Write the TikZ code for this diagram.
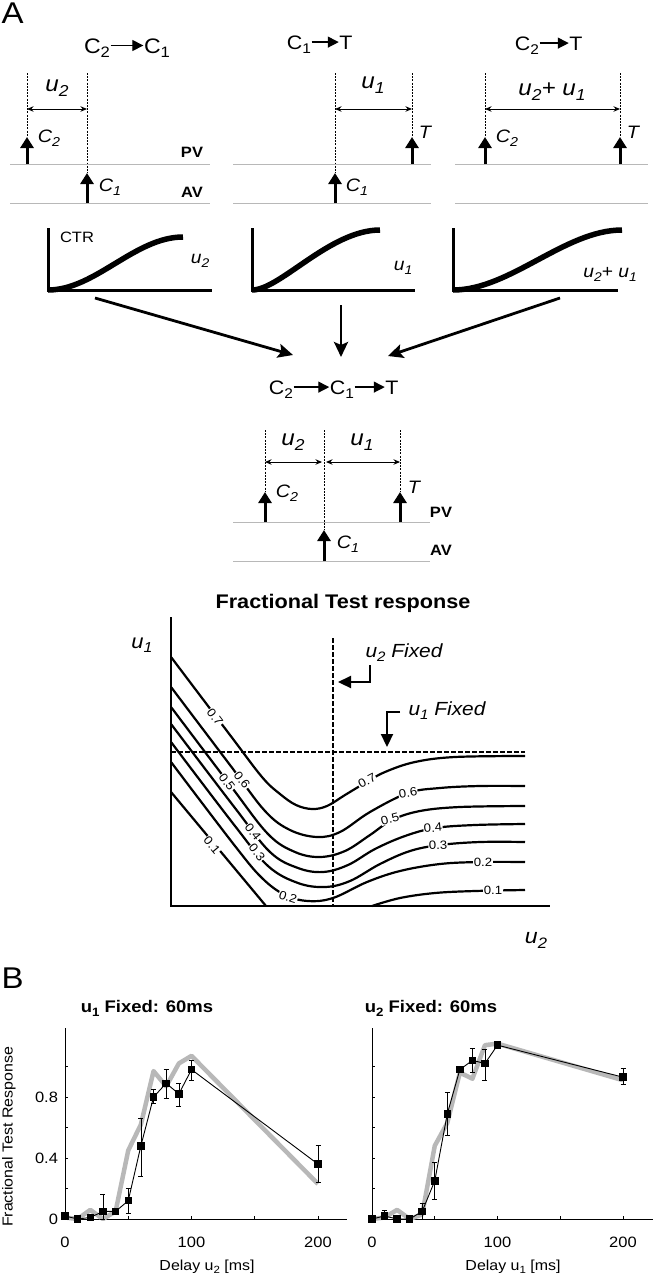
\documentclass[tikz,border=0pt]{standalone}
\usepackage{graphicx}
\usepackage{fontspec}
\setmainfont{Liberation Sans}[FakeStretch=1.1]
\usetikzlibrary{arrows.meta}
\newcommand\sbs[1]{\raisebox{-0.45ex}{\scalebox{0.72}{#1}}}
\newcommand\fsz[1]{\fontsize{#1}{#1}\selectfont}
\begin{document}
\begin{tikzpicture}[x=1pt,y=-1pt,
  every node/.style={inner sep=0.5pt},
  ttl/.style={font=\fsz{19.5}, anchor=base, text height=14pt, text depth=4.8pt},
  ttlbig/.style={font=\fsz{21}, anchor=base, text height=15pt, text depth=5pt},
  ttlarr/.style={line width=1.3pt, -{Triangle[length=11pt,width=11pt]}},
  ulab/.style={font=\fsz{22}\itshape, anchor=base},
  clab/.style={font=\fsz{18}\itshape, anchor=base},
  vlab/.style={font=\fsz{15}\bfseries, anchor=base},
  vdash/.style={line width=0.8pt, dash pattern=on 2pt off 1.2pt},
  stim/.style={line width=3pt, -{Triangle[length=11pt,width=13pt]}},
  dbl/.style={line width=0.9pt, {Stealth[length=6.5pt,width=5.5pt]}-{Stealth[length=6.5pt,width=5.5pt]}},
  lvl/.style={line width=0.8pt, black!28},
  ctrax/.style={line width=3pt},
  ctrc/.style={line width=5.5pt},
  ctrlab/.style={font=\fsz{17.5}\itshape, anchor=base},
  conv/.style={line width=2.8pt, -{Stealth[length=15pt,width=14pt,inset=3pt]}},
  ax/.style={line width=2.8pt},
  fixd/.style={line width=2.3pt, dash pattern=on 4.5pt off 2.5pt},
  cont/.style={line width=2.2pt},
  clbl/.style={font=\fsz{12}, fill=white, inner sep=0.5pt},
  fixarr/.style={line width=2.2pt, -{Triangle[length=13pt,width=12pt]}},
  pax/.style={line width=0.8pt},
  gline/.style={line width=4.5pt, black!28, line join=round},
  dline/.style={line width=0.9pt},
  sq/.style={fill=black, minimum size=7.5pt, inner sep=0pt},
  ebar/.style={line width=0.7pt},
  tck/.style={font=\fsz{15}},
  ptitle/.style={font=\fsz{16.8}\bfseries, anchor=base},
  axl/.style={font=\fsz{14.5}, anchor=base}
]
\useasboundingbox (0,0) rectangle (655,1280);

% ---------------- Panel A label
\node[font=\fsz{30}, anchor=base west] (lA) at (1,23) {A};

% ---------------- Top-left: C2 -> C1
\node[ttlbig] (tl1) at (97,53) {C\sbs{2}};
\node[ttlbig] (tl2) at (157,53) {C\sbs{1}};
\draw[ttlarr] ([yshift=2.5pt]tl1.east) -- ([yshift=2.5pt]tl2.west);
\draw[vdash] (27,73) -- (27,137);
\draw[vdash] (87,73) -- (87,173);
\node[ulab] (ul2) at (57,91) {u\sbs{2}};
\draw[dbl] (27,109) -- (87,109);
\draw[lvl] (10,164) -- (210,164);
\draw[lvl] (10,203) -- (210,203);
\draw[stim] (27,164) -- (27,137);
\draw[stim] (87,203) -- (87,173);
\node[clab] (lc2) at (49,142) {C\sbs{2}};
\node[clab] (lc1) at (110,191) {C\sbs{1}};
\node[vlab] (lpv) at (192,157) {PV};
\node[vlab] (lav) at (192,197) {AV};
\draw[ctrax] (48,228) -- (48,290) -- (212,290);
\draw[ctrc] (48,290) .. controls (95,290) and (135,237) .. (183,237);
\node[font=\fsz{15}, anchor=base] (ctr) at (77,242) {CTR};
\node[ctrlab] (lcu) at (200,263) {u\sbs{2}};

% ---------------- Top-middle: C1 -> T
\node[ttl] (tm1) at (299,49) {C\sbs{1}};
\node[ttl] (tm2) at (346,49) {T};
\draw[ttlarr] ([yshift=2.3pt]tm1.east) -- ([yshift=2.3pt]tm2.west);
\draw[vdash] (335,73) -- (335,173);
\draw[vdash] (412,73) -- (412,137);
\node[ulab] (mu1) at (373,88) {u\sbs{1}};
\draw[dbl] (335,109) -- (412,109);
\draw[lvl] (233,164) -- (431,164);
\draw[lvl] (233,203) -- (431,203);
\draw[stim] (412,164) -- (412,137);
\draw[stim] (335,203) -- (335,173);
\node[clab] (mt) at (425,138) {T};
\node[clab] (mc1) at (357,191) {C\sbs{1}};
\draw[ctrax] (252,228) -- (252,290) -- (415,290);
\draw[ctrc] (252,290) .. controls (280,290) and (330,230) .. (380,230);
\node[ctrlab] (mcu) at (403,270) {u\sbs{1}};

% ---------------- Top-right: C2 -> T
\node[ttl] (tr1) at (527,50) {C\sbs{2}};
\node[ttl] (tr2) at (576,50) {T};
\draw[ttlarr] ([yshift=2.3pt]tr1.east) -- ([yshift=2.3pt]tr2.west);
\draw[vdash] (485,73) -- (485,137);
\draw[vdash] (620,73) -- (620,137);
\node[ulab] (ru) at (552,95) {u\sbs{2}+ u\sbs{1}};
\draw[dbl] (485,109) -- (620,109);
\draw[lvl] (455,164) -- (648,164);
\draw[lvl] (455,203) -- (648,203);
\draw[stim] (485,164) -- (485,137);
\draw[stim] (620,164) -- (620,137);
\node[clab] (rc2) at (507,142) {C\sbs{2}};
\node[clab] (rt) at (633,138) {T};
\draw[ctrax] (453,228) -- (453,290) -- (618,290);
\draw[ctrc] (453,290) .. controls (510,290) and (565,230) .. (622,230);
\node[ctrlab] (rcu) at (610,277) {u\sbs{2}+ u\sbs{1}};

% ---------------- converging arrows
\coordinate (cvl0) at (95,298);  \coordinate (cvl1) at (293,355);
\coordinate (cvm0) at (341,305); \coordinate (cvm1) at (341,357);
\coordinate (cvr0) at (560,298); \coordinate (cvr1) at (388,356);
\draw[conv] (cvl0) -- (cvl1);
\draw[conv] (cvm0) -- (cvm1);
\draw[conv] (cvr0) -- (cvr1);

% ---------------- combined C2 -> C1 -> T
\node[ttl] (cb1) at (281,394) {C\sbs{2}};
\node[ttl] (cb2) at (342,394) {C\sbs{1}};
\node[ttl] (cb3) at (392,394) {T};
\draw[ttlarr] ([yshift=2.3pt]cb1.east) -- ([yshift=2.3pt]cb2.west);
\draw[ttlarr] ([yshift=2.3pt]cb2.east) -- ([yshift=2.3pt]cb3.west);
\draw[vdash] (265,430) -- (265,492);
\draw[vdash] (324,430) -- (324,530);
\draw[vdash] (400,430) -- (400,492);
\node[ulab] (cu2) at (293,445) {u\sbs{2}};
\node[ulab] (cu1) at (362,445) {u\sbs{1}};
\draw[dbl] (265,462) -- (322,462);
\draw[dbl] (326,462) -- (400,462);
\draw[lvl] (233,522) -- (430,522);
\draw[lvl] (233,561) -- (430,561);
\draw[stim] (265,522) -- (265,492);
\draw[stim] (400,522) -- (400,492);
\draw[stim] (324,561) -- (324,530);
\node[clab] (cc2) at (287,497) {C\sbs{2}};
\node[clab] (ct) at (414,493) {T};
\node[clab] (cc1) at (348,548) {C\sbs{1}};
\node[vlab] (cpv) at (441,517) {PV};
\node[vlab] (cav) at (441,555) {AV};

% ---------------- contour plot
\node[font=\fsz{19.7}\bfseries, anchor=base] (ftr) at (343,608) {Fractional Test response};
\node[font=\fsz{20}\itshape, anchor=base] (au1) at (142,648) {u\sbs{1}};
\node[font=\fsz{21}\itshape, anchor=base] (au2) at (536,943) {u\sbs{2}};

\draw[cont] plot[smooth,tension=0.6] coordinates {(171,657) (230,735) (262,777) (280,794) (296,805) (312,809) (327,806) (345,795) (365,783) (385,772) (415,762) (455,757) (525,756)};
\draw[cont] plot[smooth,tension=0.6] coordinates {(171,687) (230,765) (265,811) (290,830) (317,837) (340,832) (370,812) (408,793) (440,788) (480,786) (525,786)};
\draw[cont] plot[smooth,tension=0.6] coordinates {(171,707) (230,785) (268,834) (295,852) (320,857) (345,851) (370,835) (392,820) (420,811) (460,807) (525,806)};
\draw[cont] plot[smooth,tension=0.6] coordinates {(171,724) (235,808) (270,852) (298,868) (323,872) (348,865) (375,849) (405,836) (435,828) (475,825) (525,824)};
\draw[cont] plot[smooth,tension=0.6] coordinates {(171,742) (235,826) (268,866) (298,883) (325,887) (350,881) (380,864) (410,851) (440,845) (480,842) (525,842)};
\draw[cont] plot[smooth,tension=0.6] coordinates {(171,762) (235,846) (262,878) (285,895) (308,901) (333,898) (367,882) (400,871) (440,864) (480,862) (525,862)};
\draw[cont] (171,792) -- (266,906);
\draw[cont] plot[smooth,tension=0.6] coordinates {(372,906) (400,898) (435,893) (475,891) (525,890)};

\draw[fixd] (333,638) -- (333,906);
\draw[fixd] (171,752) -- (525,752);
\draw[ax] (171,617) -- (171,906) -- (550,906);

\node[clbl, rotate=-53] (k07) at (215,717) {0.7};
\node[clbl, rotate=-53] (k06) at (242,780) {0.6};
\node[clbl, rotate=-53] (k05) at (227,782) {0.5};
\node[clbl, rotate=-52] (k04) at (253,832) {0.4};
\node[clbl, rotate=-52] (k03) at (257,852) {0.3};
\node[clbl, rotate=-18] (k02) at (288,897) {0.2};
\node[clbl, rotate=-50] (k01) at (212,845) {0.1};
\node[clbl, rotate=28] (r07) at (367,781) {0.7};
\node[clbl, rotate=10] (r06) at (408,793) {0.6};
\node[clbl, rotate=15] (r05) at (390,819) {0.5};
\node[clbl, rotate=5] (r04) at (433,828) {0.4};
\node[clbl, rotate=3] (r03) at (438,845) {0.3};
\node[clbl] (r02) at (483,862) {0.2};
\node[clbl] (r01) at (493,890) {0.1};

\node[font=\fsz{19}\itshape, anchor=base] (fx2) at (404,657) {u\sbs{2} Fixed};
\node[font=\fsz{19}\itshape, anchor=base] (fx1) at (447,715) {u\sbs{1} Fixed};
\draw[fixarr] (370,665) -- (370,682) -- (338,682);
\draw[fixarr] (400,712) -- (387,712) -- (387,747);

% ---------------- Panel B
\node[font=\fsz{30}, anchor=base west] (lB) at (1,988) {B};
\node[ptitle] (pt1) at (147,1012) {u\sbs{1} Fixed: 60ms};
\node[ptitle] (pt2) at (431,1012) {u\sbs{2} Fixed: 60ms};
\node[font=\fsz{14.5}, rotate=90] (ylab) at (9,1137) {Fractional Test Response};
\node[axl] (xl1) at (207,1270) {Delay u\sbs{2} [ms]};
\node[axl] (xl2) at (513,1270) {Delay u\sbs{1} [ms]};

% left plot
\begin{scope}[shift={(65,1219)}, x=1.265pt, y=152.5pt]
  \draw[pax] (0,1.25) -- (0,0) -- (223,0);
  \foreach \v in {0.2,0.4,0.6,0.8,1.0} \draw[pax] (0,\v) -- ++(3pt,0);
  \foreach \m in {50,100,150,200} \draw[pax] (\m,0) -- ++(0,3pt);
  \foreach \m in {0,100,200} \node[tck, anchor=base] (lx\m) at (\m,-0.19) {\m};
  \node[tck, anchor=east] (ly0) at (-5,0) {0};
  \node[tck, anchor=east] (ly4) at (-5,0.4) {0.4};
  \node[tck, anchor=east] (ly8) at (-5,0.8) {0.8};
  \draw[gline] plot coordinates {(0,0.01) (10,0.0) (20,0.06) (30,0.0) (40,0.05) (50,0.45) (60,0.62) (70,0.97) (80,0.87) (90,1.02) (100,1.07) (200,0.23)};
  \draw[dline] plot coordinates {(0,0.02) (10,0.0) (20,0.01) (30,0.05) (40,0.05) (50,0.12) (60,0.48) (70,0.80) (80,0.89) (90,0.82) (100,0.98) (200,0.36)};
  \foreach \m/\lo/\hi in {30/0.0/0.16, 50/0.04/0.20, 60/0.28/0.66, 70/0.76/0.85, 80/0.79/0.98, 90/0.74/0.89, 100/0.91/1.04, 200/0.24/0.48} {
    \draw[ebar] (\m,\lo) -- (\m,\hi);
    \draw[ebar] (\m,\hi) ++(-2.5pt,0) -- ++(5pt,0);
    \draw[ebar] (\m,\lo) ++(-2.5pt,0) -- ++(5pt,0);
  }
  \foreach \m/\v in {0/0.02, 10/0.0, 20/0.01, 30/0.05, 40/0.05, 50/0.12, 60/0.48, 70/0.80, 80/0.89, 90/0.82, 100/0.98, 200/0.36}
    \node[sq] (ls\m) at (\m,\v) {};
\end{scope}

% right plot
\begin{scope}[shift={(372,1219)}, x=1.255pt, y=152.5pt]
  \draw[pax] (0,1.25) -- (0,0) -- (224,0);
  \foreach \v in {0.2,0.4,0.6,0.8,1.0} \draw[pax] (0,\v) -- ++(3pt,0);
  \foreach \m in {50,100,150,200} \draw[pax] (\m,0) -- ++(0,3pt);
  \foreach \m in {0,100,200} \node[tck, anchor=base] (rx\m) at (\m,-0.19) {\m};
  \draw[gline] plot coordinates {(0,0.0) (10,0.01) (20,0.06) (30,0.0) (40,0.03) (50,0.48) (60,0.63) (70,0.96) (80,0.92) (90,1.14) (100,1.15) (200,0.91)};
  \draw[dline] plot coordinates {(0,0.0) (10,0.02) (20,0.0) (30,0.0) (40,0.05) (50,0.25) (60,0.69) (70,0.98) (80,1.04) (90,1.02) (100,1.14) (200,0.93)};
  \foreach \m/\lo/\hi in {10/0.0/0.06, 40/0.0/0.10, 50/0.13/0.37, 60/0.55/0.83, 80/0.96/1.12, 90/0.91/1.11, 200/0.88/0.99} {
    \draw[ebar] (\m,\lo) -- (\m,\hi);
    \draw[ebar] (\m,\hi) ++(-2.5pt,0) -- ++(5pt,0);
    \draw[ebar] (\m,\lo) ++(-2.5pt,0) -- ++(5pt,0);
  }
  \foreach \m/\v in {0/0.0, 10/0.02, 20/0.0, 30/0.0, 40/0.05, 50/0.25, 60/0.69, 70/0.98, 80/1.04, 90/1.02, 100/1.14, 200/0.93}
    \node[sq] (rs\m) at (\m,\v) {};
\end{scope}
\end{tikzpicture}
\end{document}
